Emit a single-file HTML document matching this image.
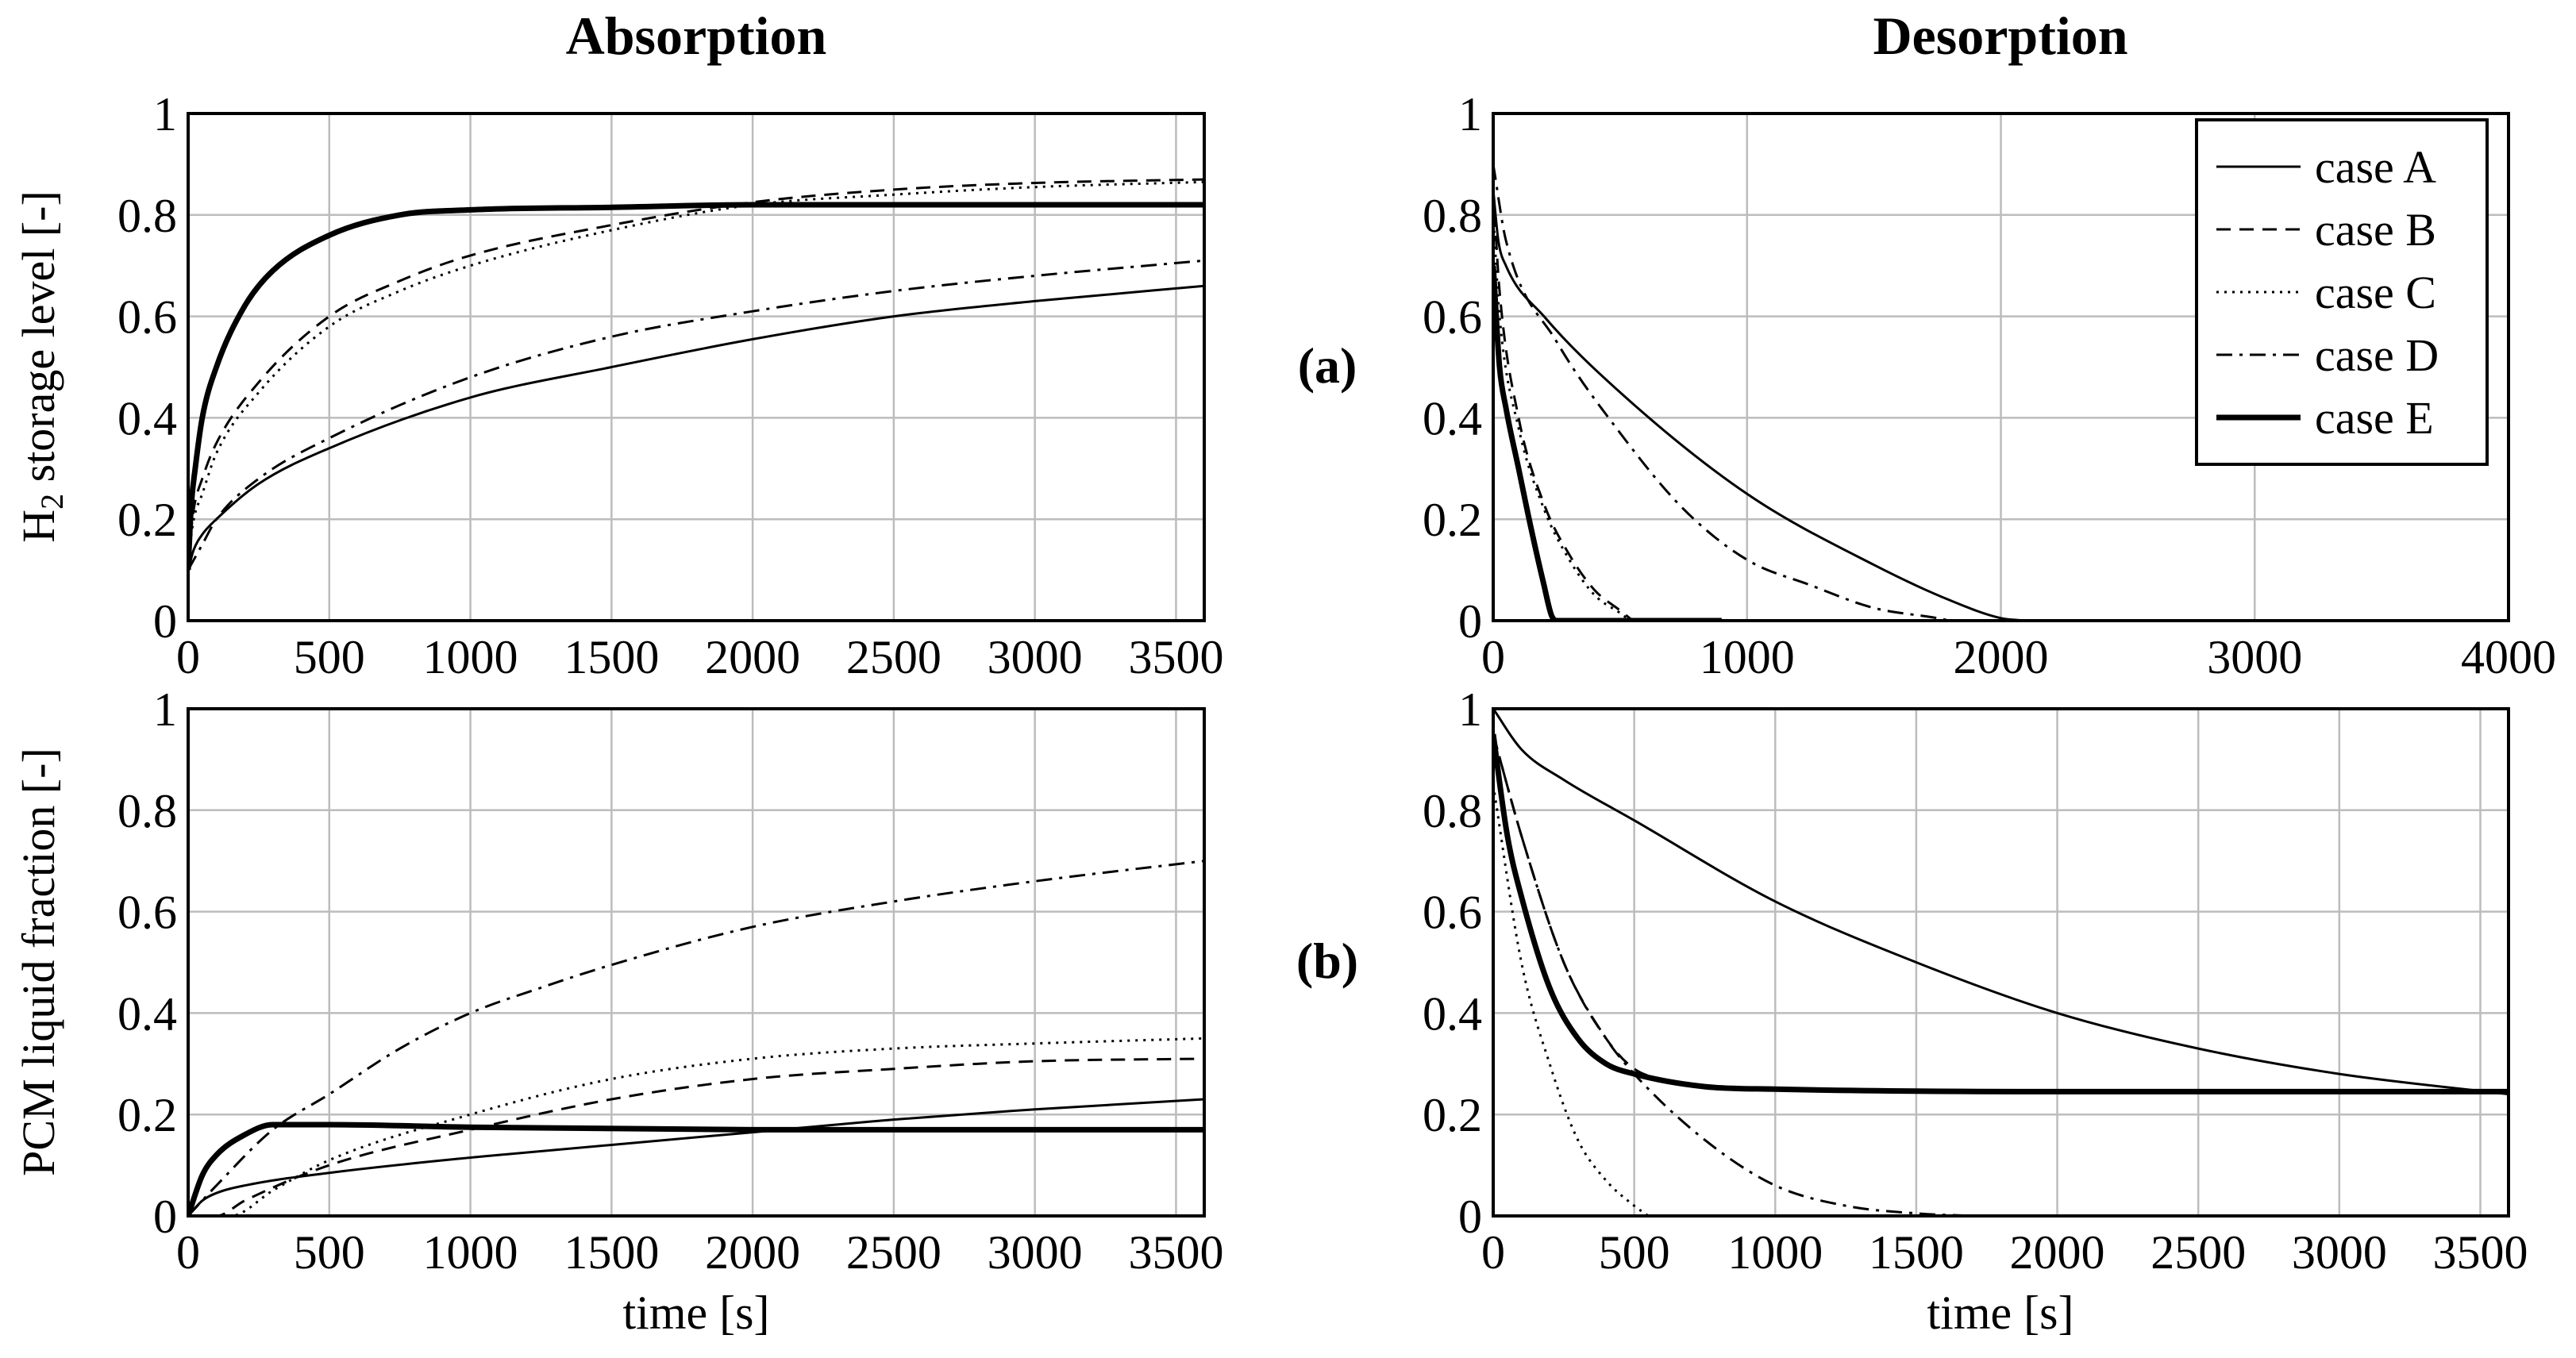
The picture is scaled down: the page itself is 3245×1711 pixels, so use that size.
<!DOCTYPE html>
<html><head><meta charset="utf-8"><style>
html,body{margin:0;padding:0;background:#fff}
svg{display:block;font-family:"Liberation Serif",serif}
</style></head><body>
<svg id="fig" width="3245" height="1711" viewBox="0 0 3245 1711" xmlns="http://www.w3.org/2000/svg">
<text x="877" y="68" font-size="68" font-weight="bold" text-anchor="middle">Absorption</text>
<text x="2520" y="68" font-size="68" font-weight="bold" text-anchor="middle">Desorption</text>
<text transform="translate(68,462) rotate(-90)" font-size="58" text-anchor="middle">H<tspan font-size="40" dy="11">2</tspan><tspan dy="-11"> storage level [-]</tspan></text>
<text transform="translate(68,1212) rotate(-90)" font-size="58" text-anchor="middle">PCM liquid fraction [-]</text>
<text x="1672" y="482" font-size="64" font-weight="bold" text-anchor="middle">(a)</text>
<text x="1672" y="1232" font-size="64" font-weight="bold" text-anchor="middle">(b)</text>
<text x="877" y="1674" font-size="60" text-anchor="middle">time [s]</text>
<text x="2520" y="1674" font-size="60" text-anchor="middle">time [s]</text>
</svg>
<script>
const caseNames = ["case A","case B","case C","case D","case E"];
const yTicks = [0,0.2,0.4,0.6,0.8,1];
const yTickLabels = ["0","0.2","0.4","0.6","0.8","1"];
const xTicks3600 = [0,500,1000,1500,2000,2500,3000,3500];
const xTicks4000 = [0,1000,2000,3000,4000];
// Absorption H2 storage level
const absH2_t = {
 A:[0,20,50,100,250,500,1000,1500,2000,2500,3000,3600],
 B:[0,20,50,100,250,500,750,1000,1500,2000,2500,3000,3600],
 C:[0,20,50,100,250,500,750,1000,1500,2000,2500,3000,3600],
 D:[0,20,50,100,250,500,1000,1500,2000,2500,3000,3600],
 E:[0,10,25,50,100,200,300,500,750,1000,1500,2000,3600]};
const absH2_v = {
 A:[0.1,0.14,0.17,0.2,0.27,0.34,0.44,0.5,0.555,0.6,0.63,0.66],
 B:[0.12,0.22,0.28,0.35,0.47,0.6,0.67,0.72,0.78,0.825,0.85,0.863,0.87],
 C:[0.12,0.2,0.25,0.33,0.45,0.58,0.65,0.7,0.77,0.82,0.84,0.855,0.865],
 D:[0.1,0.12,0.15,0.2,0.28,0.36,0.48,0.56,0.61,0.65,0.68,0.71],
 E:[0.1,0.22,0.3,0.4,0.5,0.62,0.69,0.76,0.8,0.81,0.815,0.82,0.82]};
// Desorption H2 storage level
const desH2_t = {
 A:[0,20,50,200,500,1000,1500,1800,2000,2100],
 B:[0,25,100,200,300,400,500,550],
 C:[0,25,100,200,300,400,500,540],
 D:[0,50,250,500,750,1000,1250,1500,1750,1800],
 E:[0,25,50,100,150,200,230,250,900]};
const desH2_v = {
 A:[0.85,0.75,0.7,0.6,0.45,0.25,0.11,0.04,0.005,0],
 B:[0.85,0.65,0.4,0.23,0.13,0.06,0.02,0],
 C:[0.8,0.6,0.38,0.22,0.12,0.05,0.015,0],
 D:[0.9,0.75,0.55,0.37,0.22,0.12,0.07,0.025,0.005,0],
 E:[0.7,0.5,0.42,0.3,0.18,0.07,0.01,0,0]};
// Absorption PCM liquid fraction
const absPCM_t = {
 A:[0,50,100,200,500,1000,1500,2000,2500,3000,3600],
 B:[0,100,200,500,1000,1500,2000,2500,3000,3600],
 C:[0,150,300,500,1000,1500,2000,2500,3000,3600],
 D:[0,100,300,500,750,1000,1250,1500,2000,2500,3000,3600],
 E:[0,50,100,200,300,500,1000,2000,3600]};
const absPCM_v = {
 A:[0,0.03,0.045,0.06,0.085,0.115,0.14,0.165,0.19,0.21,0.23],
 B:[0,0,0.03,0.1,0.17,0.23,0.27,0.29,0.305,0.31],
 C:[0,0,0.05,0.11,0.2,0.27,0.31,0.33,0.34,0.35],
 D:[0,0.06,0.17,0.24,0.33,0.4,0.45,0.495,0.57,0.62,0.66,0.7],
 E:[0,0.08,0.12,0.16,0.18,0.18,0.175,0.17,0.17]};
// Desorption PCM liquid fraction
const desPCM_t = {
 A:[0,100,250,500,1000,1500,2000,2500,3000,3600],
 B:[0,100,250,400,500,600,1000,3600],
 C:[0,100,200,300,400,500,550],
 D:[0,100,250,400,500,750,1000,1250,1500,1700],
 E:[0,50,100,200,300,400,500,750,1000,2000,3600]};
const desPCM_v = {
 A:[1,0.92,0.86,0.78,0.62,0.5,0.4,0.33,0.28,0.24],
 B:[0.95,0.75,0.5,0.35,0.29,0.27,0.25,0.245],
 C:[0.85,0.5,0.3,0.15,0.07,0.02,0],
 D:[0.95,0.75,0.5,0.35,0.28,0.15,0.06,0.02,0.005,0],
 E:[0.95,0.75,0.63,0.45,0.35,0.3,0.28,0.255,0.25,0.245,0.245]};

const NS="http://www.w3.org/2000/svg";
const svg=document.getElementById('fig');
const styles={A:{w:3,d:""},B:{w:3,d:"18 11"},C:{w:3,d:"3 7"},D:{w:3,d:"20 9 4 9"},E:{w:7,d:""}};
const keys=["A","B","C","D","E"];
function mk(tag,attrs,parent){const e=document.createElementNS(NS,tag);for(const k in attrs)e.setAttribute(k,attrs[k]);(parent||svg).appendChild(e);return e;}
function smoothPath(P){
 const n=P.length; if(n<2)return '';
 const d=[],m=[];
 for(let i=0;i<n-1;i++)d.push((P[i+1][1]-P[i][1])/(P[i+1][0]-P[i][0]||1e-9));
 m[0]=d[0];m[n-1]=d[n-2];
 for(let i=1;i<n-1;i++)m[i]=(d[i-1]*d[i]<=0)?0:(d[i-1]+d[i])/2;
 for(let i=0;i<n-1;i++){if(d[i]===0){m[i]=0;m[i+1]=0;continue;}
  const a=m[i]/d[i],b=m[i+1]/d[i],s=a*a+b*b;if(s>9){const t=3/Math.sqrt(s);m[i]=t*a*d[i];m[i+1]=t*b*d[i];}}
 let s='M'+P[0][0].toFixed(1)+','+P[0][1].toFixed(1);
 for(let i=0;i<n-1;i++){const h=(P[i+1][0]-P[i][0])/3;
  s+=' C'+(P[i][0]+h).toFixed(1)+','+(P[i][1]+m[i]*h).toFixed(1)+' '+(P[i+1][0]-h).toFixed(1)+','+(P[i+1][1]-m[i+1]*h).toFixed(1)+' '+P[i+1][0].toFixed(1)+','+P[i+1][1].toFixed(1);}
 return s;
}
function panel(id,x0,x1,y0,y1,xmax,xt,tdata,vdata){
 const sx=v=>x0+(v/xmax)*(x1-x0), sy=v=>y1-v*(y1-y0);
 const g=mk('g',{});
 
 
 const cp=mk('clipPath',{id:'cp-'+id},g);
 mk('rect',{x:x0,y:y0-4,width:x1-x0,height:y1-y0+4},cp);
 xt.forEach(t=>{if(t>0&&t<xmax){const l=mk('line',{x1:sx(t),x2:sx(t),y1:y0,y2:y1,stroke:'#bcbcbc','stroke-width':2.5},g);
  
  }});
 yTicks.forEach(t=>{if(t>0&&t<1){const l=mk('line',{x1:x0,x2:x1,y1:sy(t),y2:sy(t),stroke:'#bcbcbc','stroke-width':2.5},g);
  
  }});
 yTicks.forEach((t,i)=>{const e=mk('text',{x:x0-14,y:sy(t)+21,'font-size':60,'text-anchor':'end'},g);e.textContent=yTickLabels[i];
  
  });
 xt.forEach(t=>{const e=mk('text',{x:sx(t),y:y1+66,'font-size':60,'text-anchor':'middle'},g);e.textContent=String(t);
  
  });
 const lg=mk('g',{'clip-path':'url(#cp-'+id+')'},g);
 keys.forEach(k=>{const P=tdata[k].map((t,i)=>[sx(t),sy(vdata[k][i])]);
  const p=mk('path',{d:smoothPath(P),fill:'none',stroke:'#000','stroke-width':styles[k].w,'stroke-dasharray':styles[k].d,'stroke-linejoin':'round'},lg);
  
  });
 const f=mk('rect',{x:x0,y:y0,width:x1-x0,height:y1-y0,fill:'none',stroke:'#000','stroke-width':4},g);
 
 
}
panel('abs-h2',237,1517,143,782,3600,xTicks3600,absH2_t,absH2_v);
panel('des-h2',1881,3160,143,782,4000,xTicks4000,desH2_t,desH2_v);
panel('abs-pcm',237,1517,893,1532,3600,xTicks3600,absPCM_t,absPCM_v);
panel('des-pcm',1881,3160,893,1532,3600,xTicks3600,desPCM_t,desPCM_v);

const leg=mk('g',{});


mk('rect',{x:2767,y:151,width:366,height:434,fill:'#fff',stroke:'#000','stroke-width':4},leg);
keys.forEach((k,i)=>{const y=210+i*79;
 const l=mk('line',{x1:2792,x2:2898,y1:y,y2:y,stroke:'#000','stroke-width':styles[k].w,'stroke-dasharray':styles[k].d},leg);
 
 
 const t=mk('text',{x:2916,y:y+20,'font-size':58},leg);t.textContent=caseNames[i];
 
 });
</script>
</body></html>
